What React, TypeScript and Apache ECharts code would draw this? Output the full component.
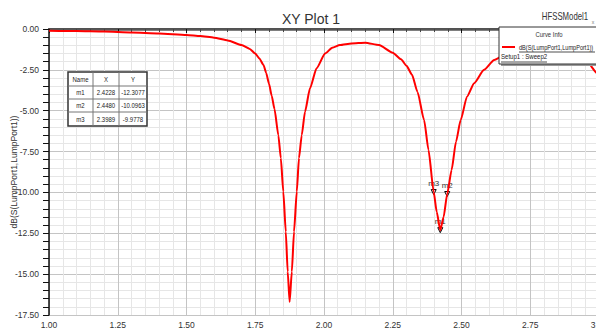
import React, { useEffect, useRef } from "react";
import * as echarts from "echarts";

const freq = [1.0, 1.1, 1.2, 1.3, 1.4, 1.5, 1.55, 1.6, 1.65, 1.7, 1.73, 1.75, 1.765, 1.78, 1.79, 1.8, 1.81, 1.82, 1.834, 1.843, 1.852, 1.861, 1.868, 1.875, 1.883, 1.891, 1.901, 1.909, 1.919, 1.931, 1.949, 1.973, 2.004, 2.03, 2.058, 2.1, 2.15, 2.2, 2.25, 2.28, 2.3, 2.32, 2.34, 2.364, 2.38, 2.3989, 2.41, 2.4228, 2.435, 2.448, 2.464, 2.48, 2.497, 2.52, 2.546, 2.582, 2.619, 2.66, 2.7, 2.75, 2.8, 2.85, 2.9, 2.959, 2.993, 3.0];
const dbS11 = [-0.1, -0.13, -0.16, -0.21, -0.27, -0.36, -0.43, -0.53, -0.7, -0.98, -1.22, -1.5, -1.8, -2.2, -2.7, -3.35, -4.1, -4.9, -6.5, -7.9, -9.95, -12.4, -14.85, -16.7, -14.85, -12.4, -9.95, -7.9, -6.5, -5.06, -3.63, -2.4, -1.5, -1.15, -0.98, -0.88, -0.84, -0.98, -1.45, -1.85, -2.25, -2.8, -3.85, -5.57, -7.4, -9.9778, -11.2, -12.3077, -11.5, -10.0963, -8.63, -6.9, -5.57, -4.14, -3.32, -2.5, -1.9, -1.55, -1.38, -1.25, -1.25, -1.38, -1.6, -2.05, -2.7, -2.85];

const markerNames = ["m1", "m2", "m3"];
const markerX = [2.4228, 2.448, 2.3989];
const markerY = [-12.3077, -10.0963, -9.9778];

const titleText = "XY Plot 1";
const yAxisName = "dB(S(LumpPort1,LumpPort1))";
const seriesName = "dB(S(LumpPort1,LumpPort1))";
const setupName = "Setup1 : Sweep2";
const modelName = "HFSSModel1";

const FONT = "'Liberation Sans', Arial, sans-serif";

export default function App() {
  const ref = useRef<HTMLDivElement>(null);
  useEffect(() => {
    if (!ref.current) return;
    const chart = echarts.init(ref.current, null, { renderer: "svg" });

    const colX = [68, 93, 119, 147];
    const rowY = [72, 86, 99, 112, 126];
    const tableEls: any[] = [];
    tableEls.push({
      type: "rect",
      shape: { x: colX[0], y: rowY[0], width: colX[3] - colX[0], height: rowY[4] - rowY[0] },
      style: { fill: "#fff", stroke: "#333", lineWidth: 1.5 },
      z: 100,
    });
    for (let i = 1; i < 3; i++) {
      tableEls.push({ type: "line", shape: { x1: colX[i], y1: rowY[0], x2: colX[i], y2: rowY[4] }, style: { stroke: "#777", lineWidth: 1 }, z: 101 });
    }
    for (let j = 1; j < 4; j++) {
      tableEls.push({ type: "line", shape: { x1: colX[0], y1: rowY[j], x2: colX[3], y2: rowY[j] }, style: { stroke: "#777", lineWidth: 1 }, z: 101 });
    }
    const header = ["Name", "X", "Y"];
    const cellTexts: string[][] = [header];
    markerNames.forEach((n, i) => cellTexts.push([n, markerX[i].toFixed(4), markerY[i].toFixed(4)]));
    cellTexts.forEach((row, r) => {
      row.forEach((t, c) => {
        tableEls.push({
          type: "text",
          x: (colX[c] + colX[c + 1]) / 2,
          y: (rowY[r] + rowY[r + 1]) / 2,
          scaleX: 0.8,
          style: { text: t, fill: "#222", font: `7.5px ${FONT}`, align: "center", verticalAlign: "middle" },
          z: 102,
        });
      });
    });

    const legendEls: any[] = [
      { type: "rect", shape: { x: 501, y: 29, width: 110, height: 37 }, style: { fill: "#999" }, z: 99 },
      { type: "rect", shape: { x: 499, y: 27, width: 110, height: 37 }, style: { fill: "#fff", stroke: "#333", lineWidth: 1 }, z: 100 },
      { type: "text", x: 549, y: 34, scaleX: 0.74, style: { text: "Curve Info", fill: "#333", font: `8px ${FONT}`, align: "center", verticalAlign: "middle" }, z: 101 },
      { type: "line", shape: { x1: 502, y1: 47, x2: 515, y2: 47 }, style: { stroke: "#ff0000", lineWidth: 2 }, z: 101 },
      { type: "text", x: 519, y: 47, scaleX: 0.7, style: { text: seriesName, fill: "#222", font: `8px ${FONT}`, align: "left", verticalAlign: "middle" }, z: 101 },
      { type: "line", shape: { x1: 519, y1: 52, x2: 595, y2: 52 }, style: { stroke: "#222", lineWidth: 0.8 }, z: 101 },
      { type: "text", x: 501, y: 57, scaleX: 0.76, style: { text: setupName, fill: "#222", font: `8px ${FONT}`, align: "left", verticalAlign: "middle" }, z: 101 },
      { type: "line", shape: { x1: 501, y1: 62, x2: 547, y2: 62 }, style: { stroke: "#222", lineWidth: 0.8 }, z: 101 },
      { type: "text", x: 565, y: 17, scaleX: 0.78, style: { text: modelName, fill: "#333", font: `10px ${FONT}`, align: "center", verticalAlign: "middle" }, z: 101 },
      { type: "text", x: 593, y: 22, style: { text: "x", fill: "#777", font: `5px ${FONT}`, align: "center", verticalAlign: "middle" }, z: 101 },
    ];

    chart.setOption({
      animation: false,
      backgroundColor: "#fff",
      title: {
        text: titleText,
        left: 306,
        top: 7,
        textAlign: "center",
        textStyle: { fontSize: 14, fontWeight: "normal", color: "#333", fontFamily: FONT },
      },
      grid: { left: 49, right: 11, top: 29, bottom: 15, containLabel: false, outerBoundsMode: "none" },
      xAxis: [
        {
          type: "value",
          min: 1,
          max: 3,
          interval: 0.25,
          axisLine: { show: true, lineStyle: { color: "#111", width: 1.5 } },
          axisTick: { show: true, length: 4, lineStyle: { color: "#111" } },
          minorTick: { show: true, splitNumber: 5, length: 3, lineStyle: { color: "#444" } },
          axisLabel: { formatter: (v: number) => v.toFixed(2), fontSize: 8.5, color: "#333", fontFamily: FONT, margin: 5 },
          splitLine: { show: true, lineStyle: { color: "#c4c4c4", width: 1 } },
          minorSplitLine: { show: true, lineStyle: { color: "#e6e6e6", width: 1 } },
        },
        {
          type: "value",
          position: "top",
          min: 1,
          max: 3,
          interval: 0.25,
          axisLine: { show: true, lineStyle: { color: "#555", width: 2.5 } },
          axisTick: { show: false },
          axisLabel: { show: false },
          splitLine: { show: false },
        },
      ],
      yAxis: {
        type: "value",
        min: -17.5,
        max: 0,
        interval: 2.5,
        name: yAxisName,
        nameLocation: "middle",
        nameGap: 31,
        nameMoveOverlap: false,
        nameTextStyle: { fontSize: 8.5, color: "#333", fontFamily: FONT },
        axisLine: { show: true, lineStyle: { color: "#111", width: 1.5 } },
        axisTick: { show: true, length: 6, lineStyle: { color: "#111" } },
        minorTick: { show: true, splitNumber: 5, length: 6, lineStyle: { color: "#111" } },
        axisLabel: { formatter: (v: number) => v.toFixed(2), fontSize: 8.5, color: "#333", fontFamily: FONT, margin: 10 },
        splitLine: { show: true, lineStyle: { color: "#c4c4c4", width: 1 } },
        minorSplitLine: { show: true, lineStyle: { color: "#e6e6e6", width: 1 } },
      },
      series: [
        {
          type: "line",
          name: seriesName,
          data: freq.map((f, i) => [f, dbS11[i]]),
          showSymbol: false,
          smooth: 0.2,
          smoothMonotone: "x",
          lineStyle: { color: "#ff0000", width: 2 },
          itemStyle: { color: "#ff0000" },
          z: 5,
          markPoint: {
            symbol: "triangle",
            symbolRotate: 180,
            symbolSize: 5,
            itemStyle: { color: "#fff", borderColor: "#000", borderWidth: 1 },
            label: {
              show: true,
              position: "top",
              distance: 2,
              formatter: (p: any) => p.name,
              fontSize: 8,
              color: "#333",
              fontFamily: FONT,
            },
            data: markerNames.map((n, i) => ({ name: n, coord: [markerX[i], markerY[i]] })),
          },
        },
      ],
      graphic: [...tableEls, ...legendEls],
    });
    return () => chart.dispose();
  }, []);
  return (
    <div
      ref={ref}
      style={{ position: "fixed", left: 0, top: 0, width: 610, height: 330, overflow: "hidden", background: "#fff" }}
    />
  );
}
